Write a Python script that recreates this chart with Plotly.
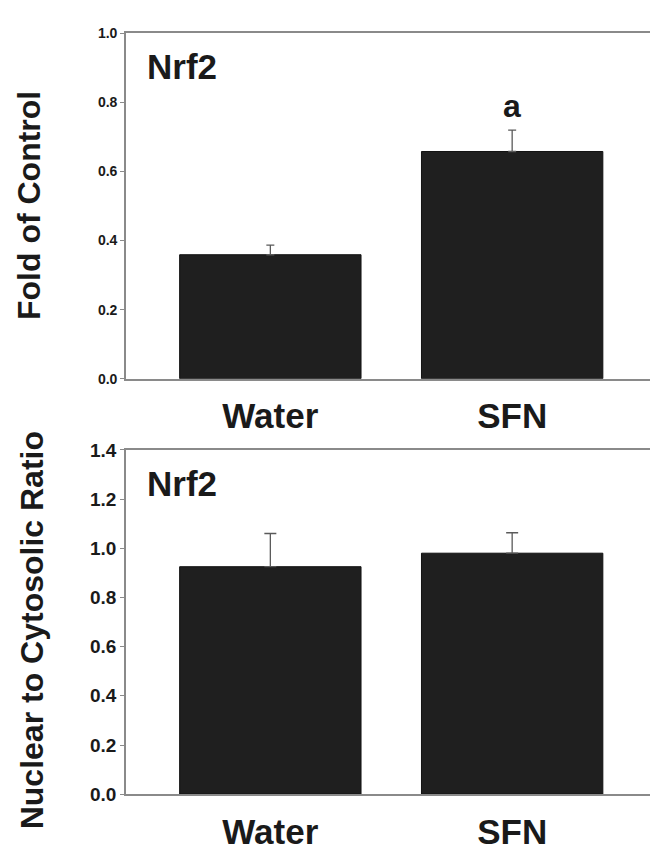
import plotly.graph_objects as go

categories = ["Water", "SFN"]

# Top panel: Nrf2, Fold of Control
fold_means = [0.359, 0.658]
fold_err = [0.028, 0.062]
fold_letters = ["", "a"]

# Bottom panel: Nrf2, Nuclear to Cytosolic Ratio
ratio_means = [0.925, 0.980]
ratio_err = [0.135, 0.083]

top_ticks = [0.0, 0.2, 0.4, 0.6, 0.8, 1.0]
bottom_ticks = [0.0, 0.2, 0.4, 0.6, 0.8, 1.0, 1.2, 1.4]

FONT = "Liberation Sans, Arial, sans-serif"
BAR = "#1f1f1f"
AXIS = "#8a8a8a"
ERR = "#5a5a5a"

fig = go.Figure()

fig.add_trace(go.Bar(
    x=categories, y=fold_means, width=0.75,
    marker=dict(color=BAR, line=dict(color="#111111", width=1)),
    error_y=dict(type="data", symmetric=False, array=fold_err,
                 arrayminus=[0] * len(fold_err), color=ERR, thickness=1.3, width=4),
    xaxis="x", yaxis="y", showlegend=False,
))
fig.add_trace(go.Bar(
    x=categories, y=ratio_means, width=0.75,
    marker=dict(color=BAR, line=dict(color="#111111", width=1)),
    error_y=dict(type="data", symmetric=False, array=ratio_err,
                 arrayminus=[0] * len(ratio_err), color=ERR, thickness=1.3, width=6),
    xaxis="x2", yaxis="y2", showlegend=False,
))

xcommon = dict(
    type="category", range=[-0.597, 1.57],
    showline=True, linecolor=AXIS, linewidth=1.5, mirror=True,
    ticks="", showgrid=False, zeroline=False,
    tickfont=dict(family=FONT, size=35, color="#1a1a1a", weight="bold"),
    ticklabelstandoff=6,
)
fig.update_layout(
    width=650, height=851,
    margin=dict(l=0, r=0, t=0, b=0),
    paper_bgcolor="white", plot_bgcolor="white",
    bargap=0.25,
    xaxis=dict(domain=[0.1938, 1.0], anchor="y", **xcommon),
    xaxis2=dict(domain=[0.1938, 1.0], anchor="y2", **xcommon),
    yaxis=dict(
        domain=[0.5558, 0.9718], anchor="x", range=[0, 1.0],
        tickvals=top_ticks, ticktext=[f"{v:.1f}" for v in top_ticks],
        showline=True, linecolor=AXIS, linewidth=1.5, mirror=False,
        ticks="outside", ticklen=4, tickcolor=AXIS, tickwidth=1,
        showgrid=False, zeroline=False,
        tickfont=dict(family=FONT, size=14, color="#1a1a1a", weight="bold"),
    ),
    yaxis2=dict(
        domain=[0.0552, 0.470], anchor="x2", range=[0, 1.4],
        tickvals=bottom_ticks, ticktext=[f"{v:.1f}" for v in bottom_ticks],
        showline=True, linecolor=AXIS, linewidth=1.5, mirror=False,
        ticks="outside", ticklen=4, tickcolor=AXIS, tickwidth=1,
        showgrid=False, zeroline=False,
        tickfont=dict(family=FONT, size=19, color="#1a1a1a", weight="bold"),
    ),
)

annots = [
    dict(text="Fold of Control", xref="paper", yref="paper", x=29 / 650, y=(851 - 201) / 851,
         textangle=-90, showarrow=False, xanchor="center", yanchor="middle",
         font=dict(family=FONT, size=32, color="#1a1a1a", weight="bold")),
    dict(text="Nuclear to Cytosolic Ratio", xref="paper", yref="paper", x=32 / 650, y=(851 - 636) / 851,
         textangle=-90, showarrow=False, xanchor="center", yanchor="middle",
         font=dict(family=FONT, size=32, color="#1a1a1a", weight="bold")),
    dict(text="Nrf2", xref="paper", yref="paper", x=145 / 650, y=(851 - 58) / 851,
         showarrow=False, xanchor="left", yanchor="middle",
         font=dict(family=FONT, size=35, color="#1a1a1a", weight="bold")),
    dict(text="Nrf2", xref="paper", yref="paper", x=145 / 650, y=(851 - 485) / 851,
         showarrow=False, xanchor="left", yanchor="middle",
         font=dict(family=FONT, size=35, color="#1a1a1a", weight="bold")),
]
for cat, m, e, lab in zip(categories, fold_means, fold_err, fold_letters):
    if lab:
        annots.append(dict(text=lab, xref="x", yref="y", x=cat, y=m + e,
                           showarrow=False, xanchor="center", yanchor="bottom", yshift=4,
                           font=dict(family=FONT, size=32, color="#1a1a1a", weight="bold")))
fig.update_layout(annotations=annots)

fig.write_html("out.html")
